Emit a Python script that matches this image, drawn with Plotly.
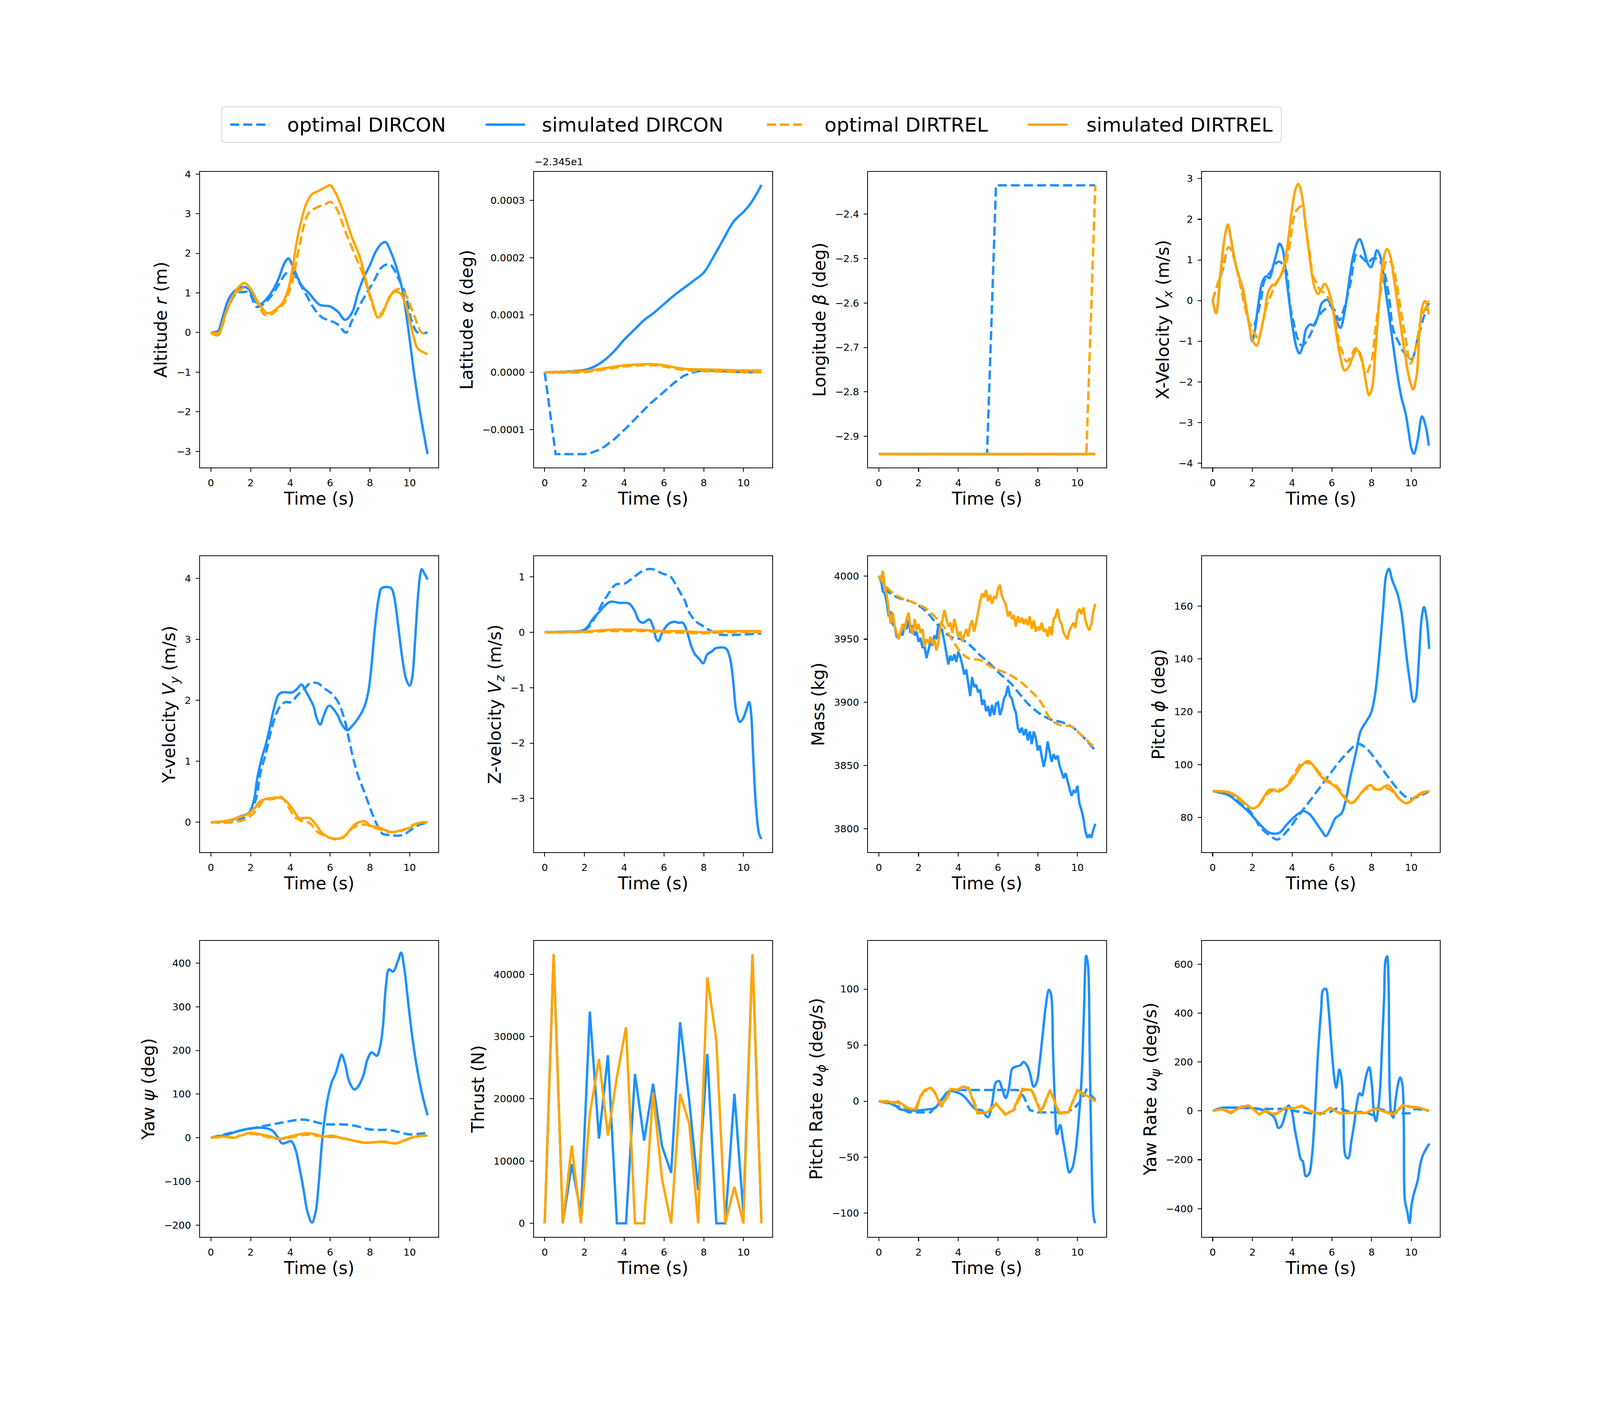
"""Trajectories DIRCON / DIRTREL : 12 panneaux (optimal vs simulé)."""
import plotly.graph_objects as go

# ---------------------------------------------------------------- data
# Altitude r (m)
ALT_OPT_DIRCON_T = [0, 0.4, 0.8, 1.3, 1.6, 1.9, 2.3, 2.6, 3.0, 3.4, 3.8, 4.1, 4.4, 4.8, 5.2, 5.6, 6.0, 6.4, 6.8, 7.1,
                    7.5, 7.9, 8.2, 8.6, 9.0, 9.4, 9.8, 10.1, 10.4, 10.9]
ALT_OPT_DIRCON = [0, 0.05, 0.55, 1.0, 1.02, 1.02, 0.65, 0.7, 0.9, 1.2, 1.5, 1.52, 1.3, 0.95, 0.6, 0.38, 0.3, 0.2, 0.0, 0.3,
                  0.7, 1.05, 1.3, 1.65, 1.72, 1.4, 0.95, 0.3, 0.0, 0.0]
ALT_SIM_DIRCON_T = [0, 0.3, 0.6, 0.9, 1.2, 1.6, 1.9, 2.2, 2.5, 2.8, 3.1, 3.4, 3.7, 3.9, 4.1, 4.55, 4.96, 5.48, 6.0, 6.4,
                    6.75, 7.1, 7.4, 7.7, 8.0, 8.3, 8.6, 8.8, 9.0, 9.3, 9.6, 9.9, 10.2, 10.5, 10.9]
ALT_SIM_DIRCON = [0, -0.03, 0.4, 0.85, 1.05, 1.15, 1.1, 0.8, 0.72, 0.85, 1.05, 1.35, 1.75, 1.87, 1.7, 1.2, 0.98, 0.7, 0.66,
                  0.52, 0.32, 0.5, 1.0, 1.4, 1.7, 2.05, 2.25, 2.28, 2.1, 1.7, 1.15, 0.2, -0.95, -1.95, -3.07]
ALT_OPT_DIRTREL_T = [0, 0.4, 0.8, 1.1, 1.4, 1.9, 2.3, 2.7, 3.0, 3.4, 3.7, 4.1, 4.5, 4.9, 5.3, 5.8, 6.0, 6.3, 6.8, 7.3,
                     7.7, 8.0, 8.3, 8.5, 8.8, 9.1, 9.5, 9.8, 10.1, 10.4, 10.6, 10.9]
ALT_OPT_DIRTREL = [0, 0.0, 0.55, 0.9, 1.05, 1.15, 0.8, 0.45, 0.45, 0.6, 0.75, 1.3, 2.3, 3.0, 3.15, 3.25, 3.3, 3.15, 2.5,
                   1.9, 1.4, 0.9, 0.5, 0.45, 0.7, 1.0, 1.1, 0.95, 0.6, 0.2, 0.0, 0.0]
ALT_SIM_DIRTREL_T = [0, 0.35, 0.7, 1.1, 1.5, 1.7, 2.0, 2.4, 2.8, 3.0, 3.3, 3.6, 3.9, 4.1, 4.4, 4.8, 5.1, 5.4, 5.8, 6.0,
                     6.3, 6.7, 7.1, 7.5, 7.8, 8.1, 8.4, 8.6, 8.9, 9.2, 9.5, 9.8, 10.1, 10.4, 10.7, 10.9]
ALT_SIM_DIRTREL = [0, -0.07, 0.4, 0.9, 1.2, 1.25, 1.1, 0.75, 0.5, 0.5, 0.6, 0.75, 1.1, 1.6, 2.5, 3.25, 3.5, 3.57, 3.68,
                   3.72, 3.5, 3.0, 2.4, 1.9, 1.3, 0.8, 0.38, 0.45, 0.8, 1.02, 1.0, 0.7, 0.1, -0.4, -0.5, -0.55]

# Latitude alpha : écart à -23.45 deg, en unités de 1e-4 deg
LAT_OFFSET_TEXT = "\u22122.345e1"
LAT_OPT_DIRCON_T = [0, 0.55, 1.0, 1.5, 2.0, 2.3, 2.7, 3.0, 3.5, 4.07, 4.66, 5.3, 5.87, 6.53, 7.0, 7.47, 8.0, 9.0, 10.0,
                    10.9]
LAT_OPT_DIRCON = [0, -1.43, -1.43, -1.43, -1.43, -1.41, -1.36, -1.3, -1.17, -0.985, -0.77, -0.55, -0.38, -0.18, -0.06,
                  0.0, 0.035, 0.02, 0.0, 0.0]
LAT_SIM_DIRCON_T = [0, 1, 2, 2.5, 3, 3.5, 4, 4.5, 5, 5.5, 6, 6.5, 7, 7.5, 8, 8.5, 9, 9.5, 10, 10.3, 10.6, 10.9]
LAT_SIM_DIRCON = [0, 0.01, 0.04, 0.1, 0.21, 0.37, 0.57, 0.74, 0.91, 1.04, 1.19, 1.34, 1.47, 1.6, 1.74, 2.02, 2.33, 2.63,
                  2.8, 2.92, 3.08, 3.27]
LAT_DIRTREL_T = [0, 2, 3, 4, 5, 5.5, 6, 7, 8, 9, 10, 10.9]
LAT_OPT_DIRTREL = [0, 0.0, 0.05, 0.1, 0.12, 0.12, 0.1, 0.04, 0.02, 0.01, 0.0, 0.0]
LAT_SIM_DIRTREL = [0, 0.02, 0.07, 0.12, 0.14, 0.14, 0.12, 0.06, 0.05, 0.04, 0.03, 0.03]

# Longitude beta (deg)
LON_SIM_T = [0, 10.9]
LON_SIM_DIRCON = [-2.94, -2.94]
LON_SIM_DIRTREL = [-2.94, -2.94]
LON_OPT_DIRCON_T = [0, 5.45, 5.9, 10.9]
LON_OPT_DIRCON = [-2.94, -2.94, -2.335, -2.335]
LON_OPT_DIRTREL_T = [0, 10.45, 10.9]
LON_OPT_DIRTREL = [-2.94, -2.94, -2.335]

# X-velocity Vx (m/s)
VX_OPT_DIRCON_T = [0, 0.2, 0.5, 0.8, 1.0, 1.32, 1.63, 1.89, 2.03, 2.2, 2.44, 2.6, 2.9, 3.32, 3.67, 3.88, 4.1, 4.28, 4.49,
                   4.86, 5.2, 5.5, 5.78, 5.92, 6.15, 6.38, 6.59, 6.94, 7.25, 7.56, 7.81, 8.07, 8.38, 8.63, 8.89, 9.09,
                   9.4, 9.71, 10.01, 10.32, 10.6, 10.88]
VX_OPT_DIRCON = [0, 0.33, 0.75, 1.32, 1.15, 0.55, -0.17, -0.6, -0.65, -0.45, 0.05, 0.49, 0.7, 0.96, 0.77, -0.06, -0.6,
                 -0.94, -1.11, -0.89, -0.5, -0.28, -0.17, -0.12, -0.25, -0.48, -0.23, 0.44, 1.15, 1.04, 0.93, 1.04, 1.0,
                 0.71, 0.05, -0.72, -1.06, -1.33, -1.44, -0.94, -0.45, -0.06]
VX_SIM_DIRCON_T = [0, 0.17, 0.4, 0.6, 0.77, 0.93, 1.11, 1.32, 1.52, 1.73, 1.88, 1.99, 2.12, 2.29, 2.5, 2.7, 2.85, 3.06,
                   3.21, 3.36, 3.52, 3.67, 3.88, 4.03, 4.23, 4.37, 4.54, 4.69, 4.9, 5.1, 5.3, 5.5, 5.77, 5.97, 6.23, 6.43,
                   6.64, 6.84, 7.05, 7.25, 7.4, 7.6, 7.81, 7.96, 8.12, 8.27, 8.43, 8.58, 8.73, 8.89, 9.09, 9.3, 9.5, 9.71,
                   9.86, 10.01, 10.13, 10.32, 10.54, 10.73, 10.88]
VX_SIM_DIRCON = [0, -0.31, 0.71, 1.54, 1.87, 1.49, 0.99, 0.6, 0.25, -0.3, -0.72, -1.0, -0.75, -0.12, 0.46, 0.6, 0.55,
                 0.88, 1.15, 1.4, 1.27, 0.71, -0.12, -0.67, -1.17, -1.3, -1.11, -0.72, -0.59, -0.61, -0.39, -0.06, 0.02,
                 -0.14, -0.5, -0.67, -0.28, 0.38, 1.04, 1.4, 1.51, 1.27, 0.91, 0.82, 0.99, 1.24, 1.1, 0.71, 0.16, -0.39,
                 -1.11, -1.83, -2.38, -2.77, -3.21, -3.65, -3.77, -3.43, -2.85, -3.1, -3.57]
VX_OPT_DIRTREL_T = [0, 0.2, 0.45, 0.8, 1.0, 1.32, 1.63, 1.89, 2.03, 2.29, 2.54, 2.76, 2.96, 3.26, 3.47, 3.67, 3.88, 4.08,
                    4.23, 4.49, 4.69, 4.9, 5.05, 5.2, 5.4, 5.66, 5.92, 6.13, 6.38, 6.54, 6.74, 6.94, 7.2, 7.45, 7.71,
                    7.87, 8.02, 8.22, 8.48, 8.78, 8.99, 9.19, 9.45, 9.71, 9.96, 10.11, 10.32, 10.52, 10.73, 10.88]
VX_OPT_DIRTREL = [0, 0.33, 0.7, 1.32, 1.15, 0.55, -0.17, -0.61, -0.72, -0.94, -0.5, -0.06, 0.16, 0.49, 0.66, 0.88, 1.38,
                  2.04, 2.23, 2.32, 1.76, 1.1, 0.6, 0.46, 0.27, 0.16, -0.01, -0.39, -1.06, -1.28, -1.5, -1.39, -1.17,
                  -1.39, -1.83, -1.66, -1.44, -0.61, 0.27, 0.99, 0.93, 0.6, -0.17, -0.94, -1.55, -1.39, -0.89, -0.39,
                  -0.17, 0.0]
VX_SIM_DIRTREL_T = [0, 0.17, 0.4, 0.6, 0.77, 0.93, 1.11, 1.32, 1.52, 1.73, 1.88, 2.03, 2.21, 2.39, 2.6, 2.8, 3.0, 3.16,
                    3.36, 3.57, 3.77, 3.98, 4.18, 4.31, 4.49, 4.69, 4.9, 5.1, 5.3, 5.46, 5.63, 5.82, 6.02, 6.23, 6.43,
                    6.64, 6.84, 7.05, 7.25, 7.4, 7.56, 7.71, 7.87, 8.02, 8.17, 8.37, 8.58, 8.78, 8.94, 9.14, 9.4, 9.65,
                    9.91, 10.09, 10.27, 10.42, 10.57, 10.7, 10.88]
VX_SIM_DIRTREL = [0, -0.31, 0.71, 1.54, 1.87, 1.49, 0.99, 0.6, 0.3, -0.28, -0.72, -1.0, -1.11, -0.83, -0.34, 0.22, 0.38,
                  0.41, 0.55, 0.82, 1.38, 2.2, 2.76, 2.87, 2.59, 1.82, 0.99, 0.38, 0.16, 0.27, 0.41, 0.27, -0.12, -0.83,
                  -1.39, -1.72, -1.64, -1.39, -1.22, -1.28, -1.55, -1.99, -2.33, -2.16, -1.39, -0.12, 0.99, 1.27, 1.1,
                  0.49, -0.39, -1.22, -1.94, -2.19, -1.83, -0.72, -0.12, -0.01, -0.34]

# Y-velocity Vy (m/s)
VY_OPT_DIRCON_T = [0, 1.0, 1.5, 1.8, 2.05, 2.3, 2.5, 2.76, 3.02, 3.22, 3.48, 3.74, 4.04, 4.35, 4.71, 5.0, 5.37, 5.73,
                   6.04, 6.35, 6.55, 6.76, 6.96, 7.16, 7.42, 7.68, 7.93, 8.14, 8.39, 8.65, 9.06, 9.47, 9.77, 10.08,
                   10.49, 10.9]
VY_OPT_DIRCON = [0, 0.0, 0.05, 0.1, 0.2, 0.42, 0.82, 1.12, 1.49, 1.71, 1.9, 1.97, 1.97, 2.08, 2.19, 2.28, 2.28, 2.19,
                 2.12, 2.0, 1.86, 1.64, 1.34, 1.05, 0.75, 0.53, 0.31, 0.12, -0.06, -0.19, -0.21, -0.22, -0.19, -0.12,
                 -0.04, -0.01]
VY_SIM_DIRCON_T = [0, 1.0, 1.5, 1.9, 2.15, 2.35, 2.56, 2.76, 2.97, 3.17, 3.38, 3.58, 4.09, 4.35, 4.55, 4.76, 4.96, 5.17,
                   5.32, 5.5, 5.68, 5.89, 5.99, 6.35, 6.6, 6.86, 7.11, 7.42, 7.73, 7.93, 8.09, 8.24, 8.44, 8.6, 9.06,
                   9.21, 9.42, 9.62, 9.83, 10.0, 10.13, 10.27, 10.42, 10.54, 10.61, 10.74, 10.9]
VY_SIM_DIRCON = [0, 0.03, 0.1, 0.15, 0.34, 0.75, 1.05, 1.27, 1.56, 1.86, 2.08, 2.13, 2.13, 2.19, 2.26, 2.16, 2.04, 1.9,
                 1.71, 1.6, 1.75, 1.9, 1.91, 1.77, 1.6, 1.51, 1.58, 1.71, 1.9, 2.16, 2.6, 3.15, 3.67, 3.84, 3.84, 3.71,
                 3.23, 2.71, 2.34, 2.24, 2.38, 2.97, 3.71, 4.08, 4.15, 4.08, 3.98]
VY_OPT_DIRTREL_T = [0, 1.0, 1.59, 1.9, 2.3, 2.66, 3.12, 3.53, 3.94, 4.25, 4.66, 4.96, 5.37, 5.78, 6.29, 6.8, 7.11, 7.52,
                    7.83, 8.14, 8.55, 8.96, 9.37, 9.77, 10.18, 10.9]
VY_OPT_DIRTREL = [0, 0.0, 0.03, 0.08, 0.2, 0.36, 0.38, 0.42, 0.23, 0.08, 0.01, -0.01, -0.16, -0.23, -0.28, -0.21, -0.1,
                  -0.04, -0.04, -0.08, -0.12, -0.16, -0.15, -0.12, -0.04, 0.0]
VY_SIM_DIRTREL_T = [0, 0.87, 1.38, 1.89, 2.2, 2.46, 2.71, 3.12, 3.53, 3.84, 4.15, 4.45, 4.96, 5.27, 5.58, 5.89, 6.29,
                    6.65, 6.91, 7.22, 7.52, 7.78, 8.03, 8.44, 8.85, 9.16, 9.57, 9.98, 10.29, 10.6, 10.9]
VY_SIM_DIRTREL = [0, 0.03, 0.08, 0.14, 0.23, 0.34, 0.38, 0.4, 0.4, 0.33, 0.2, 0.07, 0.07, -0.03, -0.17, -0.24, -0.27,
                  -0.25, -0.16, -0.04, 0.01, 0.01, -0.06, -0.08, -0.14, -0.16, -0.13, -0.09, -0.03, 0.0, 0.0]

# Z-velocity Vz (m/s)
VZ_OPT_DIRCON_T = [0, 1.0, 2.0, 2.54, 2.85, 3.16, 3.57, 4.03, 4.49, 5.0, 5.41, 5.92, 6.33, 6.59, 6.84, 7.05, 7.25, 7.56,
                   7.97, 8.28, 8.79, 9.71, 10.9]
VZ_OPT_DIRCON = [0, 0.0, 0.03, 0.27, 0.49, 0.67, 0.86, 0.88, 1.0, 1.12, 1.14, 1.06, 1.0, 0.86, 0.7, 0.57, 0.37, 0.21,
                 0.11, 0.04, -0.04, -0.045, -0.02]
VZ_SIM_DIRCON_T = [0, 1.0, 1.9, 2.13, 2.44, 2.75, 3.05, 3.31, 3.77, 4.23, 4.49, 4.74, 4.95, 5.26, 5.46, 5.61, 5.72, 5.92,
                   6.23, 6.54, 6.74, 6.95, 7.15, 7.36, 7.56, 7.77, 7.97, 8.18, 8.43, 8.59, 9.1, 9.3, 9.46, 9.61, 9.71,
                   9.82, 9.97, 10.12, 10.28, 10.38, 10.48, 10.64, 10.79, 10.91]
VZ_SIM_DIRCON = [0, 0.01, 0.03, 0.085, 0.25, 0.37, 0.49, 0.55, 0.53, 0.52, 0.41, 0.21, 0.17, 0.23, 0.09, -0.12, -0.16,
                 0.0, 0.15, 0.19, 0.17, 0.17, 0.02, -0.24, -0.4, -0.48, -0.56, -0.4, -0.34, -0.29, -0.29, -0.44, -0.81,
                 -1.38, -1.54, -1.62, -1.56, -1.42, -1.26, -1.46, -2.19, -3.21, -3.65, -3.73]
VZ_DIRTREL_T = [0, 2, 3, 4, 5, 6, 7, 7.8, 9, 10.9]
VZ_OPT_DIRTREL = [0, 0.0, 0.02, 0.02, 0.02, 0.0, -0.01, -0.02, 0.0, 0.0]
VZ_SIM_DIRTREL = [0, 0.01, 0.04, 0.05, 0.04, 0.02, 0.02, 0.0, 0.02, 0.02]

# Mass (kg)
MASS_OPT_T = [0, 0.36, 0.97, 1.69, 2.31, 2.82, 3.33, 3.74, 4.15, 4.56, 5.08, 5.59, 6.1, 6.62, 7.13, 7.64, 8.15, 8.67,
              9.18, 9.69, 10.21, 10.87]
MASS_OPT_DIRCON = [4000, 3989, 3982.8, 3979.3, 3973, 3964, 3955.3, 3951, 3950, 3945.6, 3937.6, 3930.6, 3922.6, 3915.5,
                   3905.8, 3896.9, 3890.6, 3886.3, 3884.5, 3881, 3873.9, 3862.4]
MASS_OPT_DIRTREL = [4000, 3991.7, 3983.7, 3979.3, 3974.8, 3967.8, 3958.9, 3948.2, 3939.4, 3934.5, 3933.5, 3928.7,
                    3925.2, 3921.6, 3916.3, 3909.2, 3900.4, 3886.3, 3881.8, 3881, 3873.9, 3864.1]
MASS_SIM_T = [round(0.1 * k, 1) for k in range(110)]  # pas d'échantillonnage 0.1 s
MASS_SIM_DIRCON = [4000, 3998, 3988, 3986, 3979, 3968, 3972, 3962, 3960, 3952,
                   3951, 3955, 3953, 3962, 3958, 3965, 3955, 3961, 3953, 3956,
                   3948, 3951, 3943, 3945, 3935, 3942, 3948, 3945, 3953, 3950,
                   3962, 3958, 3956, 3948, 3940, 3930, 3937, 3933, 3938, 3932,
                   3940, 3936, 3930, 3922, 3926, 3915, 3905, 3920, 3912, 3914,
                   3908, 3910, 3898, 3902, 3893, 3897, 3889, 3898, 3890, 3899,
                   3900, 3890, 3895, 3903, 3906, 3913, 3905, 3903, 3896, 3892,
                   3880, 3876, 3880, 3874, 3879, 3870, 3877, 3867, 3877, 3872,
                   3862, 3866, 3858, 3849, 3856, 3869, 3861, 3853, 3859, 3855,
                   3858, 3850, 3845, 3840, 3844, 3838, 3833, 3826, 3830, 3829,
                   3834, 3820, 3815, 3808, 3798, 3793, 3795, 3793, 3799, 3804]
MASS_SIM_DIRTREL = [4000, 3997, 4004, 3991, 3985, 3973, 3962, 3971, 3960, 3955,
                    3950, 3956, 3962, 3957, 3966, 3971, 3959, 3954, 3966, 3957,
                    3962, 3955, 3958, 3944, 3950, 3947, 3952, 3946, 3950, 3941,
                    3948, 3960, 3965, 3973, 3966, 3960, 3963, 3955, 3966, 3958,
                    3952, 3956, 3948, 3953, 3958, 3952, 3961, 3965, 3956, 3963,
                    3972, 3980, 3986, 3983, 3989, 3980, 3985, 3978, 3984, 3982,
                    3990, 3993, 3984, 3980, 3977, 3968, 3972, 3966, 3969, 3960,
                    3968, 3963, 3967, 3962, 3966, 3961, 3968, 3958, 3965, 3956,
                    3960, 3957, 3963, 3956, 3958, 3952, 3960, 3953, 3966, 3968,
                    3974, 3965, 3962, 3955, 3952, 3950, 3957, 3960, 3963, 3959,
                    3971, 3974, 3970, 3975, 3965, 3960, 3957, 3962, 3972, 3978]

# Pitch phi (deg)
PITCH_OPT_DIRCON_T = [0, 0.81, 1.83, 2.44, 2.85, 3.26, 3.77, 4.28, 4.8, 5.31, 5.82, 6.33, 6.84, 7.3, 7.66, 8.07, 8.48,
                      8.89, 9.3, 9.71, 10.01, 10.32, 10.62, 10.9]
PITCH_OPT_DIRCON = [90, 88.8, 82.8, 76, 73.4, 71.7, 75.1, 80.3, 85.4, 90.5, 95.6, 100.7, 105, 107.9, 106.7, 103.3, 99,
                    94.8, 90.9, 87.9, 87.1, 87.9, 88.8, 90]
PITCH_SIM_DIRCON_T = [0, 0.81, 1.32, 1.83, 2.34, 2.75, 3.06, 3.37, 3.77, 4.28, 4.59, 4.9, 5.2, 5.51, 5.7, 5.92, 6.18,
                      6.48, 6.69, 6.94, 7.2, 7.45, 7.71, 7.97, 8.17, 8.37, 8.58, 8.73, 8.87, 9.04, 9.3, 9.5, 9.71, 9.91,
                      10.11, 10.21, 10.37, 10.52, 10.64, 10.77, 10.9]
PITCH_SIM_DIRCON = [90, 88.4, 85.4, 82, 77.7, 74.7, 73.9, 74.3, 77.7, 81.3, 82.4, 81.1, 78.1, 74.7, 73, 75.6, 79.8,
                    81.5, 86.2, 95.6, 104.1, 112.7, 116.1, 119.5, 126.3, 140, 158.7, 171.5, 174.1, 169.8, 164.7, 157.9,
                    144.2, 132.3, 123.8, 124.7, 138.3, 155.3, 159.6, 155.3, 143.8]
PITCH_DIRTREL_T = [0, 0.81, 1.22, 1.63, 1.98, 2.24, 2.55, 2.85, 3.06, 3.31, 3.57, 3.88, 4.18, 4.49, 4.8, 5.0, 5.31,
                   5.61, 5.92, 6.23, 6.53, 6.79, 6.99, 7.2, 7.51, 7.76, 7.97, 8.17, 8.43, 8.63, 8.83, 9.09, 9.4, 9.71,
                   9.91, 10.21, 10.52, 10.9]
PITCH_OPT_DIRTREL = [90, 89.4, 87.5, 85, 83.5, 84, 87, 89.5, 90.3, 90.5, 91, 94, 97.5, 100.6, 100.6, 100.2, 97.5, 95,
                     93.5, 92, 89, 86.5, 85.5, 86.5, 89.5, 91, 91, 90.7, 90.7, 91, 91, 89.5, 87, 85.5, 86, 87.5, 89, 90]
PITCH_SIM_DIRTREL = [90, 89.6, 88, 85.4, 83.5, 84.1, 87.5, 90.5, 90.6, 89.8, 90.9, 93, 96.4, 99.8, 101.4, 100.3, 96.9,
                     94.3, 93, 91.3, 88.4, 86.2, 85.4, 86.7, 89.6, 91.7, 92.2, 90.9, 90.5, 91.7, 92.2, 90.1, 87.1, 85.4,
                     85.8, 87.9, 89.4, 90]

# Yaw psi (deg)
YAW_OPT_DIRCON_T = [0, 1.38, 2.0, 2.51, 3.12, 3.74, 4.35, 4.76, 5.27, 5.78, 6.4, 6.91, 7.42, 7.93, 8.44, 8.96, 9.47,
                    9.98, 10.49, 10.9]
YAW_OPT_DIRCON = [0, 15.4, 20.6, 25.7, 30.8, 36, 41.1, 41.1, 36, 30.8, 30.8, 29.8, 25.7, 19.5, 18, 18, 12.9, 7.7, 9.3,
                  11.3]
YAW_SIM_DIRCON_T = [0, 0.87, 1.38, 1.89, 2.4, 2.81, 3.12, 3.38, 3.58, 3.84, 4.04, 4.25, 4.45, 4.66, 4.86, 5.09, 5.27,
                    5.42, 5.58, 5.73, 5.89, 6.09, 6.29, 6.45, 6.58, 6.75, 6.96, 7.22, 7.42, 7.68, 7.88, 8.09, 8.34, 8.5,
                    8.65, 8.8, 8.96, 9.16, 9.42, 9.57, 9.72, 9.93, 10.13, 10.39, 10.64, 10.9]
YAW_SIM_DIRCON = [0, 7.7, 15.4, 20.6, 23.1, 21.6, 15.4, 0, -12.9, -10.3, -7.7, -25.7, -66.8, -118, -169.7, -194.3,
                  -169.7, -108, -15.4, 46.3, 92.5, 128.5, 149.1, 174.8, 190.2, 169.7, 128.5, 110.5, 118.3, 144, 180,
                  195.4, 187.7, 205.7, 252, 344.5, 385.6, 380.5, 406.2, 424.2, 390.7, 308.5, 231.4, 154.2, 97.7, 51.4]
YAW_DIRTREL_T = [0, 0.67, 1.18, 1.48, 2.0, 2.51, 3.02, 3.43, 3.94, 4.45, 4.86, 5.27, 5.68, 6.09, 6.5, 7.01, 7.52, 7.93,
                 8.44, 8.85, 9.31, 9.77, 10.29, 10.9]
YAW_OPT_DIRTREL = [0, 2, 1, 5, 9, 6, 0, -3, 0, 5, 7, 5, 2, 2, 0, -5, -9, -11, -9, -9, -13, -6, 2, 5]
YAW_SIM_DIRTREL = [0, 2.6, 0, 5, 11.3, 7.7, 2.6, -2.6, 2.6, 7.7, 10.3, 7.7, 2.6, 5, 0, -5, -10.3, -11.3, -9.3, -10.3,
                   -12.9, -5, 2.6, 5]

# Thrust (N), aux noeuds de collocation
KNOT_T = [0, 0.45, 0.91, 1.36, 1.82, 2.27, 2.73, 3.18, 3.63, 4.09, 4.54, 5.0, 5.45, 5.9, 6.36, 6.81, 7.27, 7.72, 8.18,
          8.63, 9.08, 9.54, 9.99, 10.45, 10.9]
THRUST_DIRCON = [0, 43200, 0, 9500, 1500, 34000, 13600, 27000, 0, 0, 24000, 13300, 22400, 12400, 8100, 32300, 19700,
                 5300, 27200, 0, 0, 20800, 1700, 43200, 0]
THRUST_DIRTREL = [0, 43200, 0, 12500, 0, 17600, 26400, 14100, 23500, 31500, 0, 0, 21000, 7100, 0, 20800, 16000, 0,
                  39500, 29500, 0, 5900, 0, 43200, 0]

# Pitch rate omega_phi (deg/s)
WPHI_OPT_DIRCON_T = [0, 0.5, 1.0, 1.5, 2.6, 3.0, 3.6, 4.2, 5.0, 6.0, 7.0, 7.3, 7.6, 8.0, 8.5, 9.0, 9.5, 9.9, 10.2, 10.45,
                     10.7, 10.9]
WPHI_OPT_DIRCON = [0, -2, -5, -10, -10, -2, 10, 10, 10, 10, 10, 4, -8, -10, -10, -10, -10, -5, 1, 10, 5, 1]
WPHI_SIM_DIRCON_T = [0, 0.46, 0.77, 1.08, 1.49, 2.0, 2.51, 2.82, 3.13, 3.54, 3.95, 4.26, 4.56, 4.87, 5.18, 5.49, 5.69,
                     5.9, 6.05, 6.21, 6.39, 6.56, 6.72, 6.92, 7.13, 7.28, 7.49, 7.64, 7.79, 7.95, 8.1, 8.26, 8.41, 8.56,
                     8.67, 8.77, 8.87, 8.97, 9.13, 9.28, 9.44, 9.59, 9.74, 9.9, 10.05, 10.21, 10.33, 10.44, 10.53, 10.62,
                     10.72, 10.82, 10.9]
WPHI_SIM_DIRCON = [0, -1.6, -3.2, -7.2, -8.2, -8.2, -7.2, -6.2, 0.8, 8.9, 7.8, 4.8, -1.2, -7.2, -8.2, -14.3, -3.2, 16.9,
                   17.9, 10.9, 2.8, 12.9, 29, 31, 32, 35, 31, 22.9, 12.9, 16.9, 35, 61.2, 85.3, 99.4, 95.4, 45, -3.2,
                   -29.4, -21.3, -35.4, -51.5, -63.6, -59.6, -45.5, -19.3, 20.9, 81.3, 129.6, 121.5, 41, -59.6, -103.8,
                   -108.9]
WPHI_OPT_DIRTREL = [0, -1, -1, -6, -7, 9, 10, -4, 9, 11, 11, -10, -10, -3, -11, -8, 10, 10, -10, 10, -10, -10, 9, 5, 0]
WPHI_SIM_DIRTREL_T = [0, 0.46, 0.77, 0.97, 1.28, 1.59, 1.9, 2.1, 2.31, 2.62, 2.82, 3.13, 3.44, 3.64, 3.95, 4.21, 4.51,
                      4.97, 5.44, 5.9, 6.36, 6.77, 7.23, 7.69, 8.15, 8.62, 9.08, 9.54, 10.0, 10.92]
WPHI_SIM_DIRTREL = [0, 0, -2, 0, -4, -7, -7, 5, 10, 12, 8, -5, 5, 11, 10, 13, 12, -11, -10, -2, -12, -8, 11, 10, -10, 10,
                    -11, -10, 10, 0]

# Yaw rate omega_psi (deg/s)
WPSI_OPT_DIRCON_T = [0, 0.5, 1.3, 2.3, 3.0, 3.5, 4.5, 4.9, 5.7, 5.9, 6.3, 6.9, 7.7, 8.1, 8.4, 9.0, 9.6, 9.9, 10.2, 10.9]
WPSI_OPT_DIRCON = [0, 13, 13, 8, 8, 8, -5, -10, -10, -5, 13, -5, -5, -19, 8, -5, -10, -10, 8, 0]
WPSI_SIM_DIRCON_T = [0, 0.5, 1.32, 2.34, 2.85, 3.11, 3.31, 3.47, 3.67, 3.82, 3.98, 4.13, 4.28, 4.44, 4.54, 4.69, 4.85,
                     5.0, 5.15, 5.31, 5.46, 5.56, 5.7, 5.82, 5.97, 6.12, 6.22, 6.38, 6.48, 6.58, 6.69, 6.82, 6.99, 7.15,
                     7.25, 7.4, 7.51, 7.66, 7.76, 7.88, 8.02, 8.12, 8.22, 8.32, 8.43, 8.53, 8.63, 8.7, 8.78, 8.85, 8.91,
                     8.99, 9.09, 9.21, 9.31, 9.44, 9.55, 9.62, 9.68, 9.8, 9.91, 10.01, 10.11, 10.32, 10.47, 10.62, 10.91]
WPSI_SIM_DIRCON = [0, 12.8, 12.8, 8, -10, -28, -70, -60, -10, 22, -1, -74, -138, -198, -207, -267, -258, -184, -1, 247,
                   412, 494, 499, 430, 274, 137, 95, 169, 137, -1, -184, -194, -120, -38, 27, 72, 63, 118, 155, 178,
                   100, -10, -42, -1, 91, 274, 458, 614, 632, 546, 91, -10, -28, 45, 100, 137, 109, -47, -368, -413,
                   -459, -386, -345, -285, -212, -175, -134]
WPSI_DIRTREL_T = [0, 0.5, 0.91, 1.42, 1.83, 2.34, 2.65, 3.16, 3.67, 4.08, 4.49, 5.0, 5.46, 5.92, 6.38, 7.71, 8.22, 8.68,
                  9.09, 9.55, 10.42, 10.9]
WPSI_OPT_DIRTREL = [0, 8, -5, 15, 18, -10, 0, -12, 10, 12, 18, -3, -12, 10, -8, -8, 8, -3, -12, 18, 12, 0]
WPSI_SIM_DIRTREL = [0, 6, -10, 17, 22, -15, -1, -15, 13, 10, 22, -5, -15, 13, -10, -8, 10, -5, -15, 22, 13, 0]

# ---------------------------------------------------------------- style
BLUE = "#1e90ff"
ORANGE = "#ffa500"
DASH = "34px,15px"
FONT = "DejaVu Sans"
FIG_W, FIG_H = 6000, 3600
LINE_W = 9

STYLES = {
    "opt_dircon": dict(color=BLUE, dash=DASH, label="optimal DIRCON"),
    "sim_dircon": dict(color=BLUE, dash="solid", label="simulated DIRCON"),
    "opt_dirtrel": dict(color=ORANGE, dash=DASH, label="optimal DIRTREL"),
    "sim_dirtrel": dict(color=ORANGE, dash="solid", label="simulated DIRTREL"),
}


def lat(values):
    return [v * 1e-4 for v in values]


PANELS = [
    dict(ytitle="Altitude <i>r</i> (m)", yrange=[-3.41, 4.06], dtick=1,
         series=[("opt_dircon", ALT_OPT_DIRCON_T, ALT_OPT_DIRCON, "spline"),
                 ("sim_dircon", ALT_SIM_DIRCON_T, ALT_SIM_DIRCON, "spline"),
                 ("opt_dirtrel", ALT_OPT_DIRTREL_T, ALT_OPT_DIRTREL, "spline"),
                 ("sim_dirtrel", ALT_SIM_DIRTREL_T, ALT_SIM_DIRTREL, "spline")]),
    dict(ytitle="Latitude <i>α</i> (deg)", yrange=[-1.665e-4, 3.50e-4], dtick=1e-4, fmt=".4f",
         series=[("opt_dircon", LAT_OPT_DIRCON_T, lat(LAT_OPT_DIRCON), "linear"),
                 ("sim_dircon", LAT_SIM_DIRCON_T, lat(LAT_SIM_DIRCON), "spline"),
                 ("opt_dirtrel", LAT_DIRTREL_T, lat(LAT_OPT_DIRTREL), "spline"),
                 ("sim_dirtrel", LAT_DIRTREL_T, lat(LAT_SIM_DIRTREL), "spline")]),
    dict(ytitle="Longitude <i>β</i> (deg)", yrange=[-2.9705, -2.3045], dtick=0.1, fmt=".1f",
         series=[("opt_dircon", LON_OPT_DIRCON_T, LON_OPT_DIRCON, "linear"),
                 ("sim_dircon", LON_SIM_T, LON_SIM_DIRCON, "linear"),
                 ("opt_dirtrel", LON_OPT_DIRTREL_T, LON_OPT_DIRTREL, "linear"),
                 ("sim_dirtrel", LON_SIM_T, LON_SIM_DIRTREL, "linear")]),
    dict(ytitle="X-Velocity <i>V<sub>x</sub></i> (m/s)", yrange=[-4.11, 3.17], dtick=1,
         series=[("opt_dircon", VX_OPT_DIRCON_T, VX_OPT_DIRCON, "spline"),
                 ("sim_dircon", VX_SIM_DIRCON_T, VX_SIM_DIRCON, "spline"),
                 ("opt_dirtrel", VX_OPT_DIRTREL_T, VX_OPT_DIRTREL, "spline"),
                 ("sim_dirtrel", VX_SIM_DIRTREL_T, VX_SIM_DIRTREL, "spline")]),
    dict(ytitle="Y-velocity <i>V<sub>y</sub></i> (m/s)", yrange=[-0.49, 4.36], dtick=1,
         series=[("opt_dircon", VY_OPT_DIRCON_T, VY_OPT_DIRCON, "spline"),
                 ("sim_dircon", VY_SIM_DIRCON_T, VY_SIM_DIRCON, "spline"),
                 ("opt_dirtrel", VY_OPT_DIRTREL_T, VY_OPT_DIRTREL, "spline"),
                 ("sim_dirtrel", VY_SIM_DIRTREL_T, VY_SIM_DIRTREL, "spline")]),
    dict(ytitle="Z-velocity <i>V<sub>z</sub></i> (m/s)", yrange=[-3.97, 1.37], dtick=1,
         series=[("opt_dircon", VZ_OPT_DIRCON_T, VZ_OPT_DIRCON, "spline"),
                 ("sim_dircon", VZ_SIM_DIRCON_T, VZ_SIM_DIRCON, "spline"),
                 ("opt_dirtrel", VZ_DIRTREL_T, VZ_OPT_DIRTREL, "spline"),
                 ("sim_dirtrel", VZ_DIRTREL_T, VZ_SIM_DIRTREL, "spline")]),
    dict(ytitle="Mass (kg)", yrange=[3781.5, 4015.5], dtick=50,
         series=[("opt_dircon", MASS_OPT_T, MASS_OPT_DIRCON, "spline"),
                 ("sim_dircon", MASS_SIM_T, MASS_SIM_DIRCON, "linear"),
                 ("opt_dirtrel", MASS_OPT_T, MASS_OPT_DIRTREL, "spline"),
                 ("sim_dirtrel", MASS_SIM_T, MASS_SIM_DIRTREL, "linear")]),
    dict(ytitle="Pitch <i>ϕ</i> (deg)", yrange=[66.9, 178.8], dtick=20,
         series=[("opt_dircon", PITCH_OPT_DIRCON_T, PITCH_OPT_DIRCON, "spline"),
                 ("sim_dircon", PITCH_SIM_DIRCON_T, PITCH_SIM_DIRCON, "spline"),
                 ("opt_dirtrel", PITCH_DIRTREL_T, PITCH_OPT_DIRTREL, "spline"),
                 ("sim_dirtrel", PITCH_DIRTREL_T, PITCH_SIM_DIRTREL, "spline")]),
    dict(ytitle="Yaw <i>ψ</i> (deg)", yrange=[-226.8, 450.8], dtick=100,
         series=[("opt_dircon", YAW_OPT_DIRCON_T, YAW_OPT_DIRCON, "spline"),
                 ("sim_dircon", YAW_SIM_DIRCON_T, YAW_SIM_DIRCON, "spline"),
                 ("opt_dirtrel", YAW_DIRTREL_T, YAW_OPT_DIRTREL, "spline"),
                 ("sim_dirtrel", YAW_DIRTREL_T, YAW_SIM_DIRTREL, "spline")]),
    dict(ytitle="Thrust (N)", yrange=[-2160, 45360], dtick=10000, fmt="d",
         series=[("sim_dircon", KNOT_T, THRUST_DIRCON, "linear"),
                 ("sim_dirtrel", KNOT_T, THRUST_DIRTREL, "linear")]),
    dict(ytitle="Pitch Rate <i>ω<sub>ϕ</sub></i> (deg/s)", yrange=[-121, 143], dtick=50,
         series=[("opt_dircon", WPHI_OPT_DIRCON_T, WPHI_OPT_DIRCON, "linear"),
                 ("sim_dircon", WPHI_SIM_DIRCON_T, WPHI_SIM_DIRCON, "spline"),
                 ("opt_dirtrel", KNOT_T, WPHI_OPT_DIRTREL, "linear"),
                 ("sim_dirtrel", WPHI_SIM_DIRTREL_T, WPHI_SIM_DIRTREL, "linear")]),
    dict(ytitle="Yaw Rate <i>ω<sub>ψ</sub></i> (deg/s)", yrange=[-515, 695], dtick=200,
         series=[("opt_dircon", WPSI_OPT_DIRCON_T, WPSI_OPT_DIRCON, "linear"),
                 ("sim_dircon", WPSI_SIM_DIRCON_T, WPSI_SIM_DIRCON, "spline"),
                 ("opt_dirtrel", WPSI_DIRTREL_T, WPSI_OPT_DIRTREL, "linear"),
                 ("sim_dirtrel", WPSI_DIRTREL_T, WPSI_SIM_DIRTREL, "linear")]),
]

# positions des axes, en pixels de la figure 6000x3600
COL_X = [(750, 1644), (2002, 2896), (3255, 4148), (4507, 5400)]
ROW_Y = [(433, 1193), (1421, 2181), (2409, 3169)]


def px(x):
    return x / FIG_W


def py(y):
    return 1 - y / FIG_H


AXIS = dict(showline=True, mirror=True, linecolor="black", linewidth=3, ticks="outside", ticklen=13, tickwidth=3,
            tickcolor="black", showgrid=False, zeroline=False, tickfont=dict(size=37, color="black"),
            ticklabelstandoff=10)

fig = go.Figure()
layout = {}
for i, p in enumerate(PANELS):
    n = i + 1
    row, col = divmod(i, 4)
    suffix = "" if n == 1 else str(n)
    for key, t, v, shape in p["series"]:
        st = STYLES[key]
        fig.add_trace(go.Scatter(
            x=t, y=v, mode="lines", name=st["label"], showlegend=False,
            xaxis="x" + suffix, yaxis="y" + suffix, hoverinfo="skip",
            line=dict(color=st["color"], width=LINE_W, dash=st["dash"], shape=shape),
        ))
    x0, x1 = COL_X[col]
    y0, y1 = ROW_Y[row]
    layout["xaxis" + suffix] = dict(
        AXIS, domain=[px(x0), px(x1)], anchor="y" + suffix, range=[-0.545, 11.445], tick0=0, dtick=2,
        title=dict(text="Time (s)", font=dict(size=65, color="black")),
    )
    layout["yaxis" + suffix] = dict(
        AXIS, domain=[py(y1), py(y0)], anchor="x" + suffix, range=p["yrange"], tick0=0, dtick=p["dtick"],
        tickformat=p.get("fmt", ""),
        title=dict(text=p["ytitle"], font=dict(size=65, color="black")),
    )

fig.update_layout(**layout)

# légende dessinée à la main : x en fraction de largeur, hauteur en pixels
LEG_X0, LEG_X1 = 831, 4805
LEG_CY = 312          # centre vertical du cadre (px, figure 3600 de haut)
LEG_HALF_H = 67
LEG_ITEMS = [("opt_dircon", 863, 1075), ("sim_dircon", 1821, 2030), ("opt_dirtrel", 2876, 3090),
             ("sim_dirtrel", 3855, 4072)]
HANDLE_LEN = 148

rx, r = 16 / FIG_W, 16
X0, X1, h = px(LEG_X0), px(LEG_X1), LEG_HALF_H
box_path = (f"M{X0 + rx},{h} L{X1 - rx},{h} Q{X1},{h} {X1},{h - r} L{X1},{-h + r} Q{X1},{-h} {X1 - rx},{-h} "
            f"L{X0 + rx},{-h} Q{X0},{-h} {X0},{-h + r} L{X0},{h - r} Q{X0},{h} {X0 + rx},{h} Z")
shapes = [dict(type="path", xref="paper", yref="paper", ysizemode="pixel", yanchor=py(LEG_CY), path=box_path,
               fillcolor="white", line=dict(color="#d6d6d6", width=3), layer="above")]
annotations = []
for key, hx, tx in LEG_ITEMS:
    st = STYLES[key]
    shapes.append(dict(type="line", xref="paper", yref="paper", ysizemode="pixel", yanchor=py(LEG_CY),
                       x0=px(hx), x1=px(hx + HANDLE_LEN), y0=0, y1=0,
                       line=dict(color=st["color"], width=LINE_W, dash=st["dash"]), layer="above"))
    annotations.append(dict(xref="paper", yref="paper", x=px(tx), y=py(LEG_CY), text=st["label"], showarrow=False,
                            xanchor="left", yanchor="middle", font=dict(size=74, color="black")))

# texte de décalage de l'axe latitude (offset matplotlib), juste au-dessus du cadre
annotations.append(dict(xref="paper", yref="paper", x=px(COL_X[1][0]), y=py(ROW_Y[0][0]), yshift=13,
                        text=LAT_OFFSET_TEXT, showarrow=False, xanchor="left", yanchor="bottom",
                        font=dict(size=37, color="black")))

fig.update_layout(
    width=FIG_W, height=FIG_H,
    margin=dict(l=0, r=0, t=0, b=0),
    paper_bgcolor="white", plot_bgcolor="white",
    font=dict(family=FONT, color="black"),
    showlegend=False, hovermode=False,
    shapes=shapes, annotations=annotations,
)

# La fenêtre réelle peut différer de 6000x3600 px CSS : on garde l'échelle en
# largeur (polices, traits) et on adapte la hauteur de la figure à la fenêtre.
FIT_JS = """
var gd = document.getElementById('{plot_id}');
var wrap = gd.parentElement;
function fitFigure() {
  var W = window.innerWidth, H = window.innerHeight;
  var s = W / 6000;
  var designH = Math.round(H / s);
  document.documentElement.style.overflow = 'hidden';
  document.body.style.margin = '0';
  document.body.style.overflow = 'hidden';
  wrap.style.width = W + 'px';
  wrap.style.height = H + 'px';
  wrap.style.overflow = 'hidden';
  gd.style.transformOrigin = '0 0';
  gd.style.transform = 'scale(' + s + ')';
  if (Math.abs(gd._fullLayout.height - designH) > 1) {
    gd.style.height = designH + 'px';
    return Plotly.relayout(gd, {height: designH});
  }
}
window.addEventListener('resize', fitFigure);
return fitFigure();
"""

fig.write_html("out.html", config={"displayModeBar": False}, post_script=FIT_JS)
